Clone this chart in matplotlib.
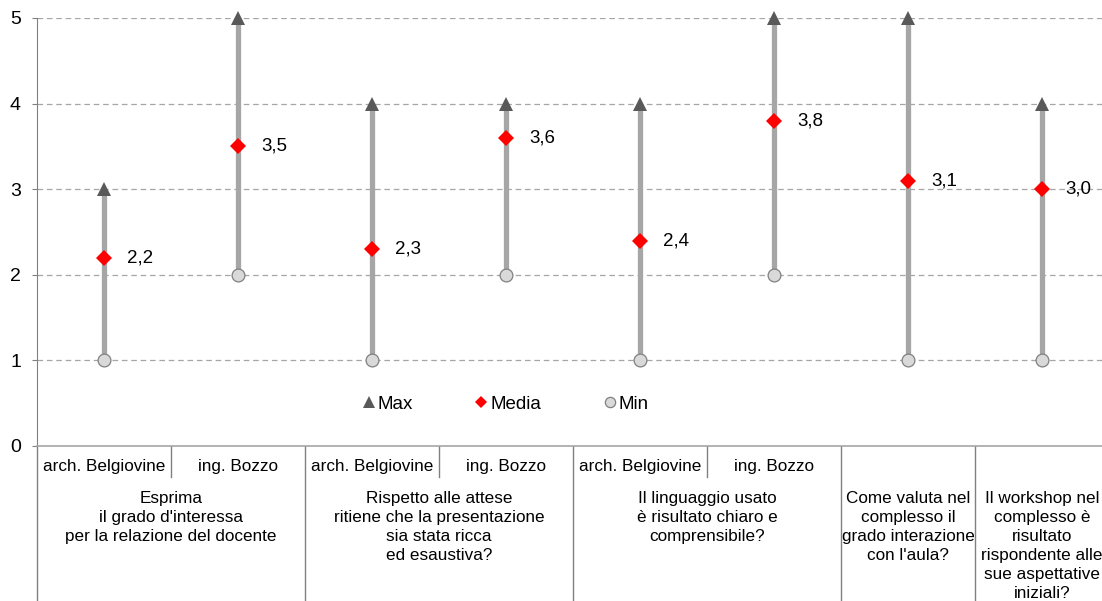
import matplotlib
matplotlib.use("Agg")
import matplotlib.pyplot as plt
from matplotlib.transforms import blended_transform_factory
from matplotlib.lines import Line2D

plt.rcParams['font.family'] = ['Liberation Sans', 'DejaVu Sans']

speakers = ["arch. Belgiovine", "ing. Bozzo", "arch. Belgiovine", "ing. Bozzo",
            "arch. Belgiovine", "ing. Bozzo", "", ""]
questions = ["Esprima\nil grado d'interessa\nper la relazione del docente",
             "Rispetto alle attese\nritiene che la presentazione\nsia stata ricca\ned esaustiva?",
             "Il linguaggio usato\nè risultato chiaro e\ncomprensibile?",
             "Come valuta nel\ncomplesso il\ngrado interazione\ncon l'aula?",
             "Il workshop nel\ncomplesso è\nrisultato\nrispondente alle\nsue aspettative\niniziali?"]
question_span = [2, 2, 2, 1, 1]
max_vals = [3, 5, 4, 4, 4, 5, 5, 4]
media_vals = [2.2, 3.5, 2.3, 3.6, 2.4, 3.8, 3.1, 3.0]
min_vals = [1, 2, 1, 2, 1, 2, 1, 1]
yticks = [0, 1, 2, 3, 4, 5]

W, H = 1102, 601
fig = plt.figure(figsize=(W / 100, H / 100), dpi=100)
left_px, top_px, bot_px = 37, 18, 446
cat_w = 134
n = len(max_vals)
ax = fig.add_axes([left_px / W, 1 - bot_px / H, n * cat_w / W, (bot_px - top_px) / H])

xs = [i + 0.5 for i in range(n)]
ax.set_xlim(0, n)
ax.set_ylim(0, 5)

grey_line = '#A6A6A6'
for x, lo, hi in zip(xs, min_vals, max_vals):
    ax.plot([x, x], [lo, hi], color=grey_line, lw=3.8, zorder=3, solid_capstyle='butt', clip_on=False)

ax.plot(xs, max_vals, linestyle='none', marker='^', markersize=9.6, color='#595959',
        markeredgewidth=0, zorder=4, clip_on=False)
ax.plot(xs, media_vals, linestyle='none', marker='D', markersize=8.6, color='#FF0000',
        markeredgewidth=0, zorder=5, clip_on=False)
ax.plot(xs, min_vals, linestyle='none', marker='o', markersize=9.2, markerfacecolor='#D9D9D9',
        markeredgecolor='#808080', markeredgewidth=0.9, zorder=4, clip_on=False)

for x, v in zip(xs, media_vals):
    ax.annotate(f"{v:.1f}".replace('.', ','), (x, v), xytext=(16.5, 0), textcoords='offset points',
                va='center', ha='left', fontsize=13.5, color='black')

# grid
for y in yticks[1:]:
    ax.axhline(y, color='#A6A6A6', lw=0.9, linestyle=(0, (4.5, 3)), zorder=1)

for s in ['top', 'right']:
    ax.spines[s].set_visible(False)
ax.spines['left'].set_color('#808080')
ax.spines['bottom'].set_color('#A6A6A6')
ax.spines['bottom'].set_linewidth(1.2)
ax.set_yticks(yticks)
ax.set_yticklabels([str(t) for t in yticks], fontsize=14)
ax.tick_params(axis='y', length=3.6, color='#808080', pad=8)
ax.set_xticks([])

# category axis lines below
tr = blended_transform_factory(ax.transData, ax.transAxes)
ybot = -(H - bot_px) / (bot_px - top_px)
yshort = -(477 - bot_px) / (bot_px - top_px)
ax.plot([0, 0], [0, ybot], transform=tr, color='#808080', lw=1, clip_on=False)
pos = 0
for span in question_span:
    if span == 2:
        ax.plot([pos + 1, pos + 1], [0, yshort], transform=tr, color='#808080', lw=1, clip_on=False)
    pos += span
    ax.plot([pos, pos], [0, ybot], transform=tr, color='#808080', lw=1, clip_on=False)

ysub = -(467 - bot_px) / (bot_px - top_px)
for x, s in zip(xs, speakers):
    if s:
        ax.text(x, ysub, s, transform=tr, ha='center', va='center', fontsize=12.3, clip_on=False)

yq = -(491 - bot_px) / (bot_px - top_px)
pos = 0
for q, span in zip(questions, question_span):
    ax.text(pos + span / 2, yq, q, transform=tr, ha='center', va='top', fontsize=12.3,
            linespacing=1.33, multialignment='center', clip_on=False)
    pos += span

handles = [
    Line2D([], [], linestyle='none', marker='^', markersize=8.4, color='#595959', markeredgewidth=0),
    Line2D([], [], linestyle='none', marker='D', markersize=5.8, color='#FF0000', markeredgewidth=0),
    Line2D([], [], linestyle='none', marker='o', markersize=7.4, markerfacecolor='#D9D9D9',
           markeredgecolor='#808080', markeredgewidth=0.9),
]
leg = ax.legend(handles, ['Max', 'Media', 'Min'], loc='center',
                bbox_to_anchor=((506 - left_px) / (n * cat_w), (bot_px - 404) / (bot_px - top_px)),
                ncol=3, frameon=False, fontsize=13.5, handlelength=0.6, handletextpad=0.18,
                columnspacing=3.35, borderpad=0, borderaxespad=0)

fig.savefig('out.png', dpi=100)
